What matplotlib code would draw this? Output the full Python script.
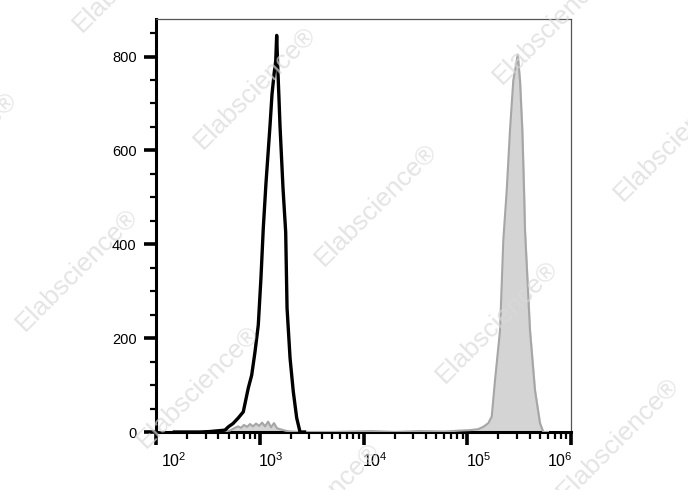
import matplotlib
matplotlib.use('Agg')
import matplotlib.pyplot as plt
import matplotlib.transforms as mtransforms
from matplotlib.ticker import LogLocator, MultipleLocator, NullFormatter, FixedLocator, FixedFormatter

plt.rcParams['font.family'] = ['Liberation Sans', 'DejaVu Sans']
plt.rcParams['mathtext.default'] = 'regular'

# black open histogram (unstained / control)
black_x = [150, 266, 331, 414, 462, 498, 552, 621, 694, 736, 776, 836, 899, 968, 1028, 1082, 1148,
           1256, 1313, 1381, 1425, 1456, 1489, 1533, 1567, 1675, 1778, 1833, 1960, 2105, 2270, 2445, 2700]
black_y = [0, 0, 1, 3, 4, 11, 18, 30, 43, 70, 94, 121, 170, 228, 330, 435, 530,
           653, 720, 767, 790, 845, 781, 710, 653, 520, 426, 264, 157, 86, 30, 0, 0]

# grey filled histogram (stained sample)
gray_x = [400, 516, 565, 617, 659, 705, 754, 806, 861, 921, 985, 1053, 1125, 1203, 1284, 1372, 1466,
          1567, 1751, 1960, 2445, 5000, 12000, 20000, 35000, 60000, 85000, 106400, 127000, 143000,
          159700, 172200, 185300, 207000, 222600, 240100, 258100, 277800, 291500, 306300, 322400,
          339400, 352500, 360100, 402300, 449500, 502300, 540500, 600000]
gray_y = [0, 3, 8, 12, 9, 15, 11, 17, 12, 18, 13, 20, 12, 22, 10, 19, 8,
          6, 3, 1, 0, 0, 2, 0, 2, 1, 3, 4, 6, 11,
          19, 33, 111, 217, 409, 515, 643, 749, 775, 804, 749,
          643, 515, 430, 217, 89, 19, 0, 0]

y_ticks = [0, 200, 400, 600, 800]
x_ticks = [1e2, 1e3, 1e4, 1e5, 1e6]
x_labels = ['$10^{2}$', '$10^{3}$', '$10^{4}$', '$10^{5}$', '$10^{6}$']

fig = plt.figure(figsize=(6.88, 4.9), dpi=100)
ax = fig.add_axes([156/688, 58/490, 415/688, 413/490])

ax.fill_between(gray_x, gray_y, 0, color='#d4d4d4', zorder=2)
ax.plot(gray_x, gray_y, color='#a6a6a6', lw=1.5, zorder=3)
ax.plot(black_x, black_y, color='black', lw=2.4, zorder=4, clip_on=False)

ax.set_xscale('log')
ax.set_xlim(100, 1e6)
ax.set_ylim(0, 880)

ax.xaxis.set_major_locator(FixedLocator(x_ticks))
ax.xaxis.set_major_formatter(FixedFormatter(x_labels))
ax.xaxis.set_minor_locator(LogLocator(base=10, subs=range(2, 10), numticks=20))
ax.xaxis.set_minor_formatter(NullFormatter())
ax.yaxis.set_major_locator(FixedLocator(y_ticks))
ax.yaxis.set_minor_locator(MultipleLocator(50))

ax.tick_params(which='major', direction='out', length=9, width=2.6, labelsize=10.5, color='black')
ax.tick_params(which='minor', direction='out', length=4.5, width=1.6, color='black')
ax.tick_params(axis='y', pad=5)
ax.tick_params(axis='x', pad=5, labelsize=11.5)
ax.tick_params(axis='x', which='minor', length=5)

for side in ['left', 'bottom']:
    ax.spines[side].set_linewidth(2.2)
    ax.spines[side].set_color('black')
for side in ['top', 'right']:
    ax.spines[side].set_linewidth(0.9)
    ax.spines[side].set_color('#555555')

# shift x labels the way the cytometry software places them
shifts = [13, 8, 8, 8, -8]
for lab, dx in zip(ax.get_xticklabels(), shifts):
    lab.set_transform(lab.get_transform() + mtransforms.ScaledTranslation(dx/72, 0, fig.dpi_scale_trans))

# watermark grid
base = (255, 88)
s1 = (121, 117)
s2 = (-57, 299)
for i in range(-3, 4):
    for j in range(-2, 3):
        cx = base[0] + i*s1[0] + j*s2[0]
        cy = base[1] + i*s1[1] + j*s2[1]
        if -120 < cx < 800 and -120 < cy < 560:
            fig.text(cx/688, 1 - cy/490, 'Elabscience\u00ae', rotation=45, fontsize=19,
                     color='#d9d9d9', alpha=0.7, ha='center', va='center',
                     rotation_mode='anchor', zorder=10)

plt.savefig('out.png', dpi=100)
